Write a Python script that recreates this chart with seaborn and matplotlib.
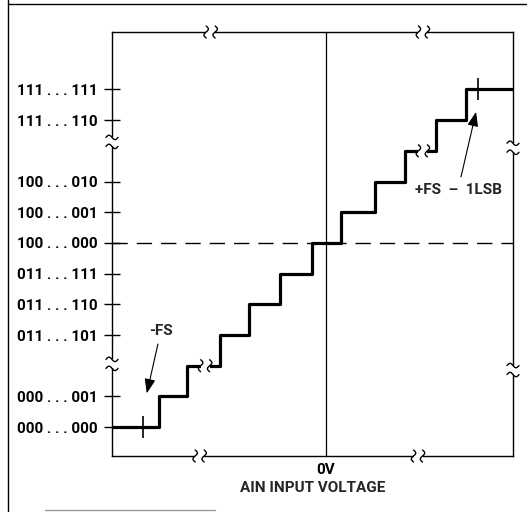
import numpy as np
import pandas as pd
import matplotlib.pyplot as plt
import matplotlib.transforms as mtransforms
import seaborn as sns
from matplotlib import font_manager
from matplotlib.lines import Line2D

# output code level (in LSB steps) and the input voltage (LSB) where each level starts
levels = [0, 1, 2, 3, 4, 5, 6, 7, 8, 9, 10, 11]
step_edges = [-7.0, -5.45, -4.55, -3.45, -2.5, -1.5, -0.45, 0.5, 1.6, 2.6, 3.6, 4.6]
x_end = 6.13

code_ticks = [0, 1, 3, 4, 5, 6, 7, 8, 10, 11]
code_labels = ['000 . . . 000', '000 . . . 001', '011 . . . 101', '011 . . . 110',
               '011 . . . 111', '100 . . . 000', '100 . . . 001', '100 . . . 010',
               '111 . . . 110', '111 . . . 111']

# -FS and +FS-1LSB markers on the staircase
fs_x = [-6.0, 5.0]
fs_y = [0, 11]

# where the axes / staircase are broken
top_breaks = [-3.77, 3.18]
bottom_breaks = [-4.13, 3.02]
left_breaks = [2.06, 9.29]
right_breaks = [1.86, 9.1]
stair_breaks = [(-3.95, 2), (3.18, 9)]

sns.set_style('white')
names = {f.name for f in font_manager.fontManager.ttflist}
main_font = 'Roboto' if 'Roboto' in names else 'DejaVu Sans'
plt.rcParams['font.family'] = [main_font, 'DejaVu Sans']
plt.rcParams['font.weight'] = 'bold'
fsize = 11

fig = plt.figure(figsize=(5.27, 5.12), dpi=100)
ax = fig.add_axes([112 / 527, 56 / 512, 401 / 527, 424 / 512])

df = pd.DataFrame({'vin': step_edges + [x_end], 'code': levels + [levels[-1]]})
sns.lineplot(data=df, x='vin', y='code', drawstyle='steps-post', color='black',
             lw=2.3, sort=False, ax=ax, zorder=3)
ax.plot(fs_x, fs_y, ls='none', marker='|', markersize=16, mew=1.2, color='black', zorder=4)

ax.set_xlim(-7.0, 6.13)
ax.set_ylim(-0.94, 12.87)

ax.axvline(0, color='black', lw=0.9, zorder=2)
ax.axhline(6, color='black', lw=1.0, ls=(0, (11, 6.5)), zorder=2)

for s in ax.spines.values():
    s.set_visible(True)
    s.set_color('black')
    s.set_linewidth(1.0)

ax.set_yticks(code_ticks)
ax.set_yticklabels(code_labels)
ax.tick_params(axis='y', direction='inout', length=12, width=1.0, pad=4,
               labelsize=fsize, left=True, colors='black')
ax.set_xticks([0])
ax.set_xticklabels(['0V'])
ax.tick_params(axis='x', length=0, pad=5, labelsize=fsize, colors='black')
ax.set_xlabel('AIN INPUT VOLTAGE', fontsize=fsize, fontweight='bold', labelpad=3)
ax.set_ylabel('')

ax.annotate('-FS', xy=(-5.86, 1.1), xytext=(-5.4, 3.13), ha='center', va='center',
            fontsize=fsize, fontweight='bold',
            arrowprops=dict(arrowstyle='-|>,head_length=0.8,head_width=0.3', lw=0.8,
                            color='black', shrinkA=2, shrinkB=0))
ax.annotate('+FS  \u2013  1LSB', xy=(4.92, 10.27), xytext=(4.33, 7.73), ha='center',
            va='center', fontsize=fsize, fontweight='bold',
            arrowprops=dict(arrowstyle='-|>,head_length=0.8,head_width=0.3', lw=0.8,
                            color='black', shrinkA=2, shrinkB=0))


def squiggle(xd, yd, upright, cover=3.0, half=4.5):
    # break mark drawn in pixel offsets around a data point
    trans = mtransforms.Affine2D().scale(1 / 100) + fig.dpi_scale_trans + \
        mtransforms.ScaledTranslation(xd, yd, ax.transData)
    t = np.linspace(-1, 1, 40)
    wave = 2.2 * np.sin(np.pi * t)
    along = 6.0 * t
    if upright:
        gap = Line2D([-half, half], [0, 0])
        marks = [Line2D(d + wave, along) for d in (-half, half)]
    else:
        gap = Line2D([0, 0], [-half, half])
        marks = [Line2D(along, d - wave) for d in (-half, half)]
    gap.set(color='white', lw=cover, transform=trans, clip_on=False, zorder=5,
            solid_capstyle='butt')
    ax.add_line(gap)
    for m in marks:
        m.set(color='black', lw=1.0, transform=trans, clip_on=False, zorder=6)
        ax.add_line(m)


y0, y1 = ax.get_ylim()
x0, x1 = ax.get_xlim()
for bx in top_breaks:
    squiggle(bx, y1, True)
for bx in bottom_breaks:
    squiggle(bx, y0, True)
for by in left_breaks:
    squiggle(x0, by, False)
for by in right_breaks:
    squiggle(x1, by, False)
for bx, by in stair_breaks:
    squiggle(bx, by, True, cover=4.5)

# page frame from the datasheet scan
fig.add_artist(Line2D([8 / 527, 8 / 527], [0, 1], color='black', lw=1.0))
fig.add_artist(Line2D([8 / 527, 1], [508 / 512, 508 / 512], color='black', lw=1.0))
fig.add_artist(Line2D([45 / 527, 215 / 527], [2 / 512, 2 / 512], color='0.6', lw=1.0))

plt.savefig('out.png', dpi=100)
